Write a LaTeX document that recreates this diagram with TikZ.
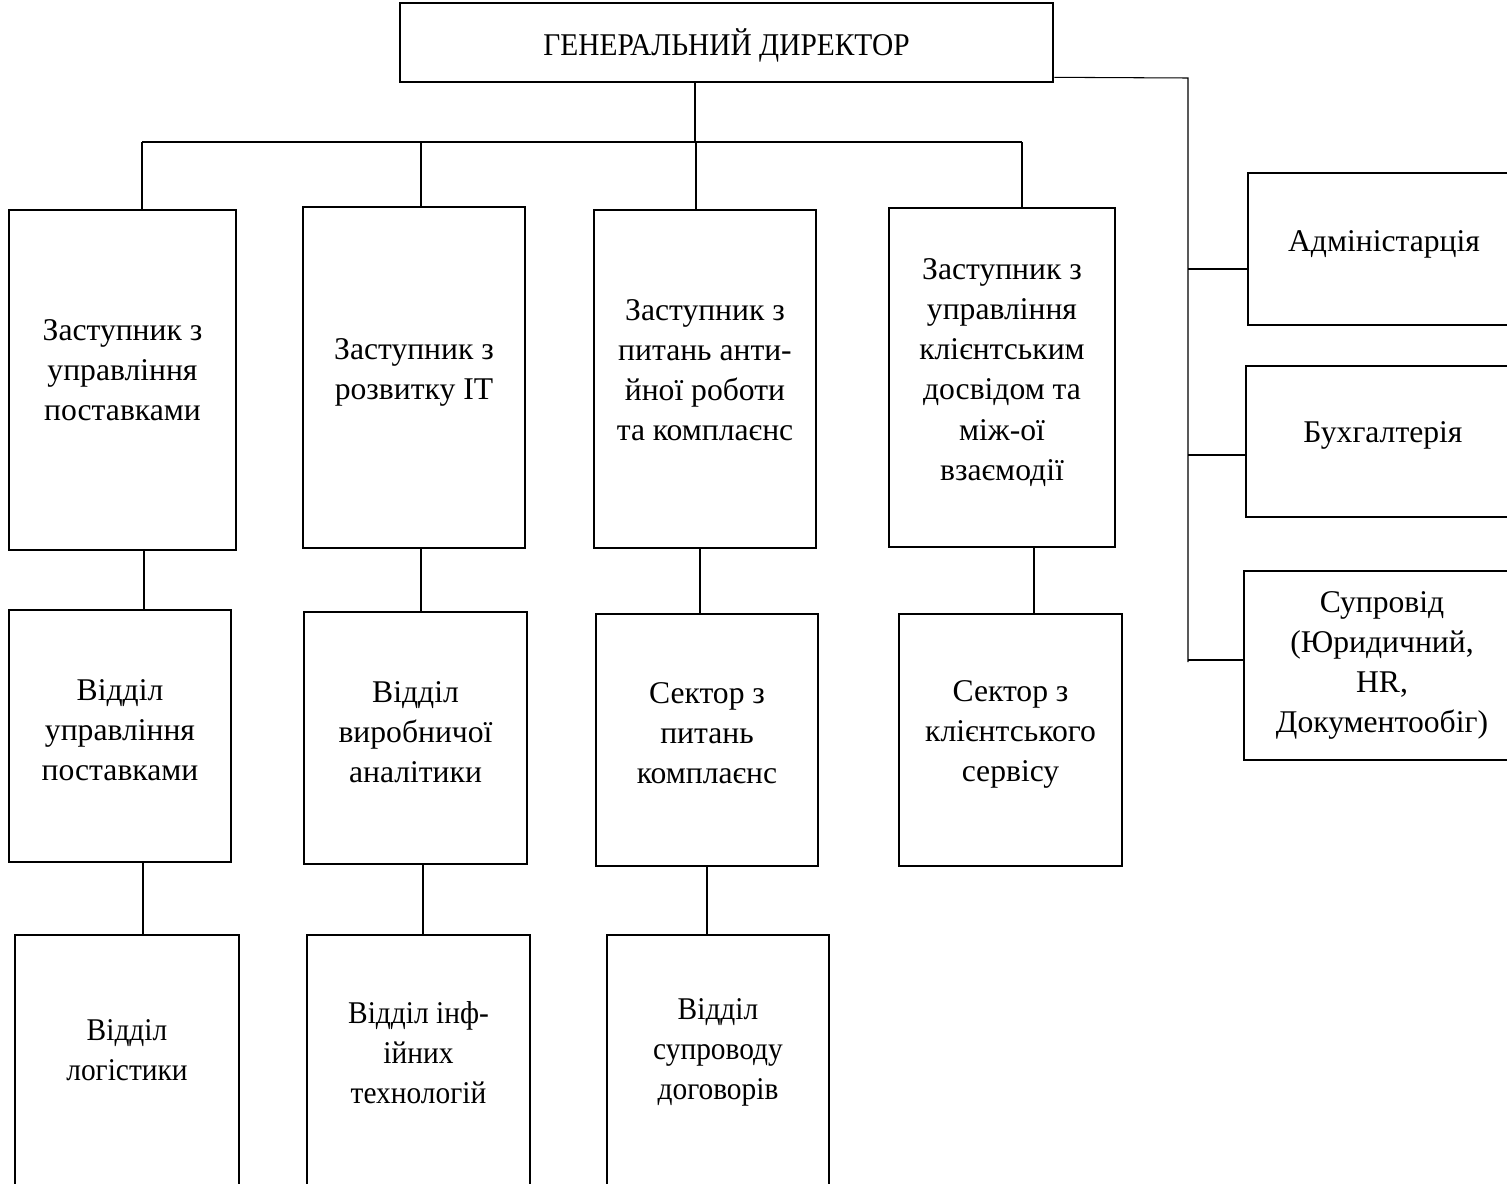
\documentclass[tikz,border=0pt]{standalone}
\usepackage{fontspec}
\setmainfont{Liberation Serif}
\newfontfamily\narrowfont[FakeStretch=0.93]{Liberation Serif}
\begin{document}
\begin{tikzpicture}[x=0.02cm,y=-0.02cm, font=\fontsize{18}{22.8}\selectfont,
 box/.style={draw, line width=1.5pt, inner sep=0pt},
 link/.style={line width=0.6pt}]
\useasboundingbox (0,0) rectangle (1507,1183);
\clip (0,0) rectangle (1507,1183);

% boxes: name/left/top/right/bottom/lift of text/text
\foreach \n/\xa/\ya/\xb/\yb/\s/\t in {
 gd/400/3/1053/82/-3/{{\narrowfont ГЕНЕРАЛЬНИЙ ДИРЕКТОР}},
 b1/9/210/236/550/10/{Заступник з\\управління\\поставками},
 b2/303/207/525/548/5/{Заступник з\\розвитку IT},
 b3/594/210/816/548/9/{Заступник з\\питань анти-\\йної роботи\\та комплаєнс},
 b4/889/208/1115/547/5/{Заступник з\\управління\\клієнтським\\досвідом та\\між-ої\\взаємодії},
 c1/9/610/231/862/6/{Відділ\\управління\\поставками},
 c2/304/612/527/864/6/{Відділ\\виробничої\\аналітики},
 c3/596/614/818/866/7/{Сектор з\\питань\\комплаєнс},
 c4/899/614/1122/866/6/{Сектор з\\клієнтського\\сервісу},
 d1/15/935/239/1190/12/{{\narrowfont Відділ}\\{\narrowfont логістики}},
 d2/307/935/530/1190/10/{{\narrowfont Відділ інф-}\\{\narrowfont ійних}\\{\narrowfont технологій}},
 d3/607/935/829/1190/10/{{\narrowfont Відділ}\\{\narrowfont супроводу}\\{\narrowfont договорів}},
 r1/1248/173/1520/325/5/{Адміністарція},
 r2/1246/366/1520/517/6/{Бухгалтерія},
 r3/1244/571/1520/760/0/{Супровід\\(Юридичний,\\HR,\\Документообіг)}}
\node[box, minimum width={(\xb-\xa)*0.02cm}, minimum height={(\yb-\ya)*0.02cm},
 label={[align=center, yshift=\s*0.02cm]center:\t}]
 (\n) at ({(\xa+\xb)/2},{(\ya+\yb)/2}) {};

% top bus
\coordinate (bus) at (695,142);
\draw[link] (bus |- gd.south) -- (bus);
\draw[link] (142,142) -- (1022,142);
\foreach \x/\b in {142/b1,421/b2,696/b3,1022/b4}
\draw[link] (\x,142) -- (\x,0 |- \b.north);

% down the columns
\foreach \x/\a/\b in {144/b1/c1,421/b2/c2,700/b3/c3,1034/b4/c4,143/c1/d1,423/c2/d2,707/c3/d3}
\draw[link] (\x,0 |- \a.south) -- (\x,0 |- \b.north);

% right side
\coordinate (rbus) at (1188,78);
\draw[link] (gd.south east) ++(0,-6) -- (rbus) -- (1188,662);
\foreach \r/\y in {r1/269,r2/455,r3/660}
\draw[link] (1188,\y) -- (\r.west |- 0,\y);

\end{tikzpicture}
\end{document}
